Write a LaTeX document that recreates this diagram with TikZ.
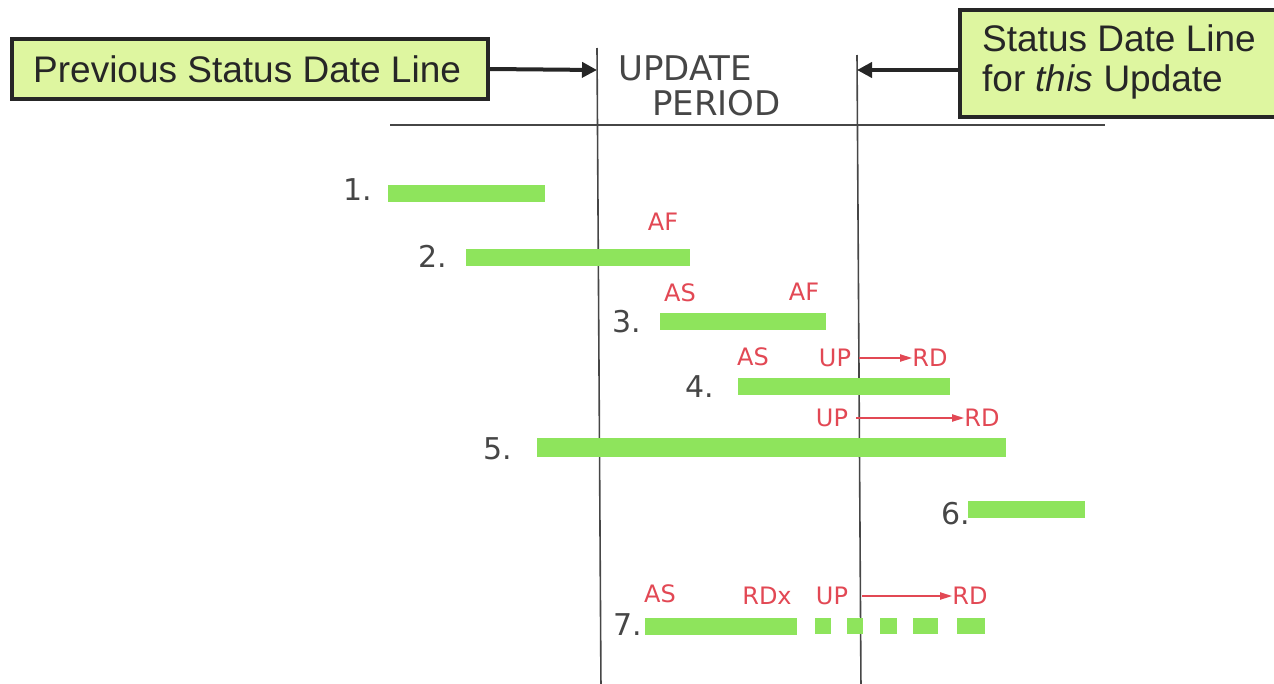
\documentclass[tikz,border=0pt]{standalone}
\usepackage{fontspec}
\setmainfont{Liberation Sans}
\newfontfamily\handfont{DejaVu Sans}
\usetikzlibrary{arrows.meta}
\definecolor{boxgreen}{RGB}{222,246,160}
\definecolor{bargreen}{RGB}{142,228,92}
\definecolor{penred}{RGB}{226,72,84}
\definecolor{pengray}{RGB}{70,70,70}
\tikzset{
  labelbox/.style={draw=black!85,line width=4pt,fill=boxgreen,inner sep=0pt,anchor=north west},
  boxtext/.style={font=\fontsize{37}{42}\selectfont,text=black!85,align=left,anchor=west,inner sep=0pt},
  bar/.style={line width=17pt,draw=bargreen},
  gridline/.style={draw=pengray,line width=1.6pt},
  pointer/.style={draw=black!85,line width=4pt,-{Triangle[length=15pt,width=15pt]}},
  num/.style={font=\handfont\fontsize{30}{30}\selectfont,text=pengray,inner sep=0pt},
  redlab/.style={font=\handfont\fontsize{24}{24}\selectfont,text=penred,inner sep=0pt},
  redarrow/.style={draw=penred,line width=1.8pt,-{Triangle[length=12pt,width=7pt]}},
  hand/.style={font=\handfont\fontsize{34}{40}\selectfont,text=pengray,inner sep=0pt}
}
\begin{document}
\begin{tikzpicture}[x=1pt,y=-1pt]
\useasboundingbox (0,0) rectangle (1274,683);
\clip (0,0) rectangle (1274,683);
% boxes
\node[labelbox,minimum width=476pt,minimum height=60pt] (prevbox) at (10,37) {};
\node[boxtext] (prevtext) at (33,69) {Previous Status Date Line};
\node[labelbox,minimum width=330pt,minimum height=107pt] (curbox) at (958,8) {};
\node[boxtext,align=left] (curtext) at (982,62) {Status Date Line\\[-2pt]for \textit{this} Update};
% lines
\coordinate (l1top) at (597,48);
\coordinate (l1bot) at (601,690);
\coordinate (l2top) at (857,55);
\coordinate (l2bot) at (861,690);
\draw[gridline] (l1top) -- (l1bot);
\draw[gridline] (l2top) -- (l2bot);
\coordinate (hl) at (390,125);
\coordinate (hr) at (1105,125);
\draw[gridline] (hl) -- (hr);
\coordinate (p1) at (597,70);
\coordinate (p2) at (857,70);
\draw[pointer] (prevbox.east) -- (p1);
\draw[pointer] (curbox.west |- p2) -- (p2);
% title
\node[hand,anchor=west] (upd) at (618,68) {UPDATE};
\node[hand,anchor=west] (per) at (652,103) {PERIOD};
% bars
\coordinate (b1a) at (388,193); \coordinate (b1b) at (545,193);
\draw[bar] (b1a) -- (b1b);
\node[num,anchor=east] (n1) at (372,190) {1.};
\coordinate (b2a) at (466,257); \coordinate (b2b) at (690,257);
\draw[bar] (b2a) -- (b2b);
\node[num,anchor=east] (n2) at (447,256) {2.};
\node[redlab] (af2) at (663,222) {AF};
\coordinate (b3a) at (660,321); \coordinate (b3b) at (826,321);
\draw[bar] (b3a) -- (b3b);
\node[num,anchor=east] (n3) at (641,322) {3.};
\node[redlab] (as3) at (680,293) {AS};
\node[redlab] (af3) at (804,292) {AF};
\coordinate (b4a) at (738,386); \coordinate (b4b) at (950,386);
\draw[bar] (b4a) -- (b4b);
\node[num,anchor=east] (n4) at (714,387) {4.};
\node[redlab] (as4) at (753,357) {AS};
\node[redlab] (up4) at (835,358) {UP};
\node[redlab] (rd4) at (930,358) {RD};
\draw[redarrow] (up4.east) ++(8pt,0) -- (rd4.west);
\coordinate (b5a) at (537,447); \coordinate (b5b) at (1006,447);
\draw[bar,line width=19pt] (b5a) -- (b5b);
\node[num,anchor=east] (n5) at (512,449) {5.};
\node[redlab] (up5) at (832,418) {UP};
\node[redlab] (rd5) at (982,418) {RD};
\draw[redarrow] (up5.east) ++(8pt,0) -- (rd5.west);
\coordinate (b6a) at (968,509); \coordinate (b6b) at (1085,509);
\draw[bar] (b6a) -- (b6b);
\node[num,anchor=east] (n6) at (970,514) {6.};
\coordinate (b7a) at (645,626); \coordinate (b7b) at (797,626);
\draw[bar] (b7a) -- (b7b);
\foreach \xa/\xb [count=\i] in {815/831,847/863,880/897,913/938,957/985}{
  \coordinate (d\i a) at (\xa,626); \coordinate (d\i b) at (\xb,626);
  \draw[bar,line width=16pt] (d\i a) -- (d\i b);
}
\node[num,anchor=east] (n7) at (642,625) {7.};
\node[redlab] (as7) at (660,594) {AS};
\node[redlab] (rdx7) at (767,596) {RDx};
\node[redlab] (up7) at (832,596) {UP};
\node[redlab] (rd7) at (970,596) {RD};
\draw[redarrow] (up7.east) ++(14pt,0) -- (rd7.west);
\end{tikzpicture}
\end{document}
